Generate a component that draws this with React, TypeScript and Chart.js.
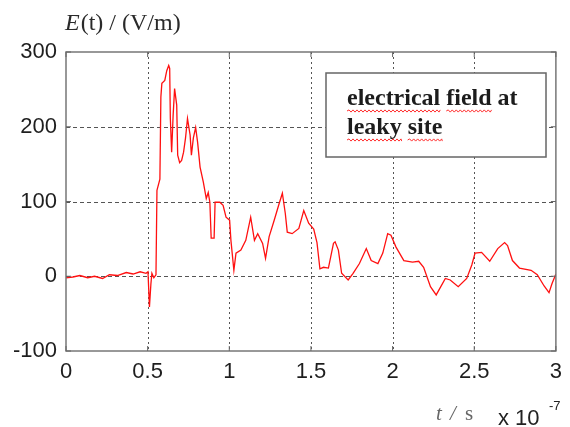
import { useEffect, useRef } from "react";
import { Chart, registerables } from "chart.js";

Chart.register(...registerables);

// Time axis in units of 1e-7 s
const timeValues = [
  0.0, 0.042, 0.085, 0.133, 0.175, 0.224, 0.266, 0.315, 0.369, 0.411, 0.454, 0.49,
  0.502, 0.511, 0.52, 0.526, 0.538, 0.551, 0.557, 0.569, 0.575, 0.581, 0.587, 0.605,
  0.617, 0.629, 0.635, 0.639, 0.647, 0.656, 0.665, 0.678, 0.684, 0.696, 0.708, 0.72,
  0.732, 0.744, 0.76, 0.768, 0.78, 0.794, 0.806, 0.821, 0.841, 0.859, 0.871, 0.881,
  0.889, 0.907, 0.913, 0.942, 0.962, 0.98, 1.002, 1.01, 1.028, 1.041, 1.071, 1.101,
  1.131, 1.154, 1.174, 1.204, 1.222, 1.244, 1.275, 1.305, 1.325, 1.343, 1.355, 1.385,
  1.426, 1.456, 1.486, 1.517, 1.537, 1.555, 1.577, 1.607, 1.638, 1.648, 1.668, 1.688,
  1.728, 1.758, 1.797, 1.839, 1.869, 1.91, 1.94, 1.97, 1.99, 2.021, 2.069, 2.122,
  2.16, 2.19, 2.232, 2.267, 2.323, 2.353, 2.402, 2.454, 2.485, 2.505, 2.545, 2.595,
  2.644, 2.686, 2.704, 2.734, 2.777, 2.848, 2.886, 2.928, 2.958, 2.976, 3.0,
];

// Electric field strength in V/m
const fieldValues = [
  -2, -1, 1, -2, 0, -3, 2, 1, 5, 3, 6, 4,
  6, -41, -10, 4, -2, 2, 115, 125, 130, 240, 258, 262,
  275, 282, 278, 211, 166, 215, 251, 229, 162, 152, 155, 166,
  185, 211, 189, 162, 185, 199, 179, 146, 126, 104, 112, 99,
  51, 51, 99, 99, 95, 79, 75, 48, 8, 31, 35, 48,
  79, 48, 57, 44, 24, 53, 75, 97, 111, 84, 59, 57,
  64, 88, 71, 63, 45, 10, 12, 11, 44, 46, 35, 4,
  -5, 4, 17, 37, 21, 17, 31, 57, 55, 39, 21, 19,
  20, 12, -14, -25, -3, -5, -14, -3, 15, 31, 32, 20,
  37, 45, 41, 21, 11, 8, 2, -13, -22, -10, 3,
];

const xTicks = [0, 0.5, 1, 1.5, 2, 2.5, 3];
const yTicks = [-100, 0, 100, 200, 300];
const legendLines = ["electrical field at", "leaky site"];
const flaggedWords = ["electrical", "field", "leaky", "site"];

const TICK_FONT = '22px "Liberation Sans", Arial, sans-serif';
const SERIF = '"Liberation Serif", "Times New Roman", serif';

function squiggle(ctx: CanvasRenderingContext2D, x0: number, x1: number, y: number) {
  ctx.beginPath();
  ctx.moveTo(x0, y);
  let up = true;
  for (let x = x0; x < x1; x += 2) {
    ctx.lineTo(Math.min(x + 2, x1), y + (up ? -1.1 : 1.1));
    up = !up;
  }
  ctx.stroke();
}

const framePlugin = {
  id: "matlabFrame",
  beforeDatasetsDraw(chart: any) {
    const { ctx, chartArea: a, scales } = chart;
    const xs = scales.x;
    const ys = scales.y;
    ctx.save();
    ctx.strokeStyle = "#555";
    ctx.lineWidth = 1;
    // vertical dotted grid
    ctx.setLineDash([2, 3]);
    xTicks.slice(1, -1).forEach((t) => {
      const px = Math.round(xs.getPixelForValue(t)) + 0.5;
      ctx.beginPath();
      ctx.moveTo(px, a.top);
      ctx.lineTo(px, a.bottom);
      ctx.stroke();
    });
    // horizontal dashed grid
    ctx.setLineDash([4, 3]);
    yTicks.slice(1, -1).forEach((t) => {
      const py = Math.round(ys.getPixelForValue(t)) + 0.5;
      ctx.beginPath();
      ctx.moveTo(a.left, py);
      ctx.lineTo(a.right, py);
      ctx.stroke();
    });
    ctx.restore();
  },
  afterDatasetsDraw(chart: any) {
    const { ctx, chartArea: a, scales } = chart;
    const xs = scales.x;
    const ys = scales.y;
    ctx.save();

    // axes box
    ctx.setLineDash([]);
    ctx.strokeStyle = "#777";
    ctx.lineWidth = 1.5;
    ctx.strokeRect(a.left, a.top, a.right - a.left, a.bottom - a.top);

    // inward tick marks
    ctx.lineWidth = 1;
    ctx.strokeStyle = "#666";
    xTicks.forEach((t) => {
      const px = xs.getPixelForValue(t);
      ctx.beginPath();
      ctx.moveTo(px, a.bottom);
      ctx.lineTo(px, a.bottom - 5);
      ctx.moveTo(px, a.top);
      ctx.lineTo(px, a.top + 5);
      ctx.stroke();
    });
    yTicks.forEach((t) => {
      const py = ys.getPixelForValue(t);
      ctx.beginPath();
      ctx.moveTo(a.left, py);
      ctx.lineTo(a.left + 5, py);
      ctx.moveTo(a.right, py);
      ctx.lineTo(a.right - 5, py);
      ctx.stroke();
    });

    // text box
    const bx = 326, by = 73, bw = 220, bh = 84;
    ctx.fillStyle = "#fff";
    ctx.fillRect(bx, by, bw, bh);
    ctx.strokeStyle = "#666";
    ctx.lineWidth = 1.5;
    ctx.strokeRect(bx, by, bw, bh);

    ctx.font = `bold 24px ${SERIF}`;
    ctx.fillStyle = "#1c1c1c";
    ctx.textBaseline = "alphabetic";
    ctx.textAlign = "left";
    const tx = 347;
    const baselines = [105, 134];
    ctx.strokeStyle = "#ff3030";
    ctx.lineWidth = 1;
    legendLines.forEach((line, i) => {
      ctx.fillText(line, tx, baselines[i]);
      flaggedWords.forEach((w) => {
        const idx = line.indexOf(w);
        if (idx < 0) return;
        const x0 = tx + ctx.measureText(line.slice(0, idx)).width;
        const x1 = x0 + ctx.measureText(w).width;
        squiggle(ctx, x0, x1, baselines[i] + 6);
      });
    });

    // y axis title: E(t) / (V/m)
    ctx.fillStyle = "#2a2a2a";
    ctx.font = `italic 24px ${SERIF}`;
    ctx.fillText("E", 65, 30);
    const ew = ctx.measureText("E").width;
    ctx.font = `24px ${SERIF}`;
    ctx.fillText("(t) / (V/m)", 65 + ew + 1, 30);

    // x axis title: t / s
    ctx.fillStyle = "#666";
    ctx.font = `italic 21px ${SERIF}`;
    ctx.fillText("t", 436, 420);
    ctx.fillText("/", 450, 420);
    ctx.font = `21px ${SERIF}`;
    ctx.fillText("s", 465, 420);

    // exponent
    ctx.fillStyle = "#222";
    ctx.font = TICK_FONT;
    ctx.fillText("x 10", 498, 425);
    ctx.font = '13px "Liberation Sans", Arial, sans-serif';
    ctx.fillText("-7", 549, 410);

    ctx.restore();
  },
};

export default function App() {
  const canvasRef = useRef<HTMLCanvasElement | null>(null);

  useEffect(() => {
    document.body.style.margin = "0";
    const canvas = canvasRef.current;
    if (!canvas) return;
    const points = timeValues.map((t, i) => ({ x: t, y: fieldValues[i] }));
    const chart = new Chart(canvas, {
      type: "line",
      data: {
        datasets: [
          {
            data: points,
            borderColor: "#ff1010",
            borderWidth: 1.3,
            pointRadius: 0,
            tension: 0,
            fill: false,
          },
        ],
      },
      options: {
        animation: false,
        responsive: false,
        devicePixelRatio: 1,
        layout: { padding: { left: 0, top: 52, right: 8, bottom: 0 } },
        plugins: {
          legend: { display: false },
          tooltip: { enabled: false },
          title: { display: false },
        },
        scales: {
          x: {
            type: "linear",
            min: 0,
            max: 3,
            afterFit: (s: any) => {
              s.height = 76;
            },
            afterBuildTicks: (s: any) => {
              s.ticks = xTicks.map((v) => ({ value: v }));
            },
            grid: { display: false, drawTicks: false },
            border: { display: false },
            ticks: {
              padding: 8,
              color: "#1e1e1e",
              font: { family: '"Liberation Sans", Arial, sans-serif', size: 22 },
              maxRotation: 0,
              callback: (v: any) => String(v),
            },
          },
          y: {
            type: "linear",
            min: -100,
            max: 300,
            afterFit: (s: any) => {
              s.width = 66;
            },
            afterBuildTicks: (s: any) => {
              s.ticks = yTicks.map((v) => ({ value: v }));
            },
            grid: { display: false, drawTicks: false },
            border: { display: false },
            ticks: {
              padding: 9,
              color: "#1e1e1e",
              font: { family: '"Liberation Sans", Arial, sans-serif', size: 22 },
              callback: (v: any) => String(v),
            },
          },
        },
      },
      plugins: [framePlugin],
    });
    return () => chart.destroy();
  }, []);

  return <canvas ref={canvasRef} width={570} height={427} style={{ display: "block" }} />;
}
